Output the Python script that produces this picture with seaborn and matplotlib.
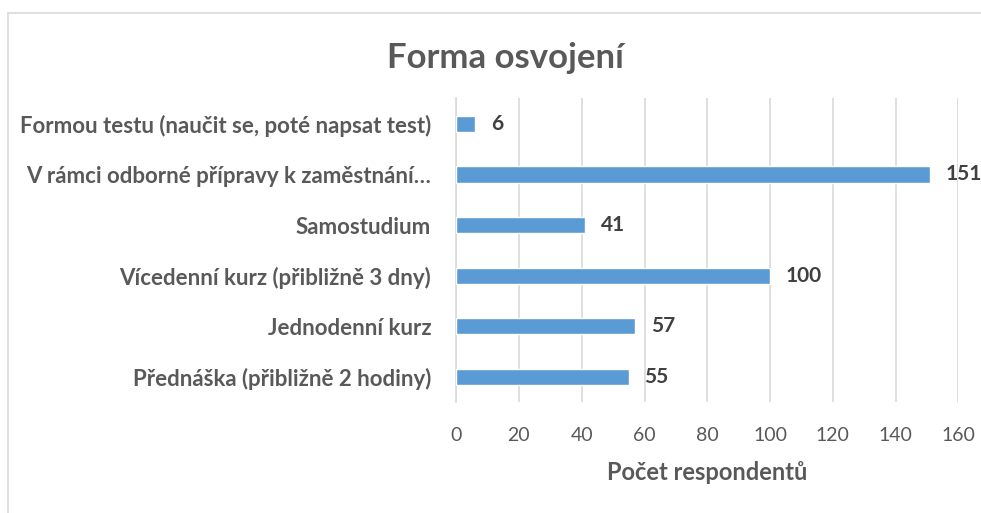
import matplotlib.pyplot as plt
from matplotlib.lines import Line2D
import pandas as pd
import seaborn as sns


# Data (top to bottom).
KATEGORIE = [
    "Formou testu (naučit se, poté napsat test)",
    "V rámci odborné přípravy k zaměstnání…",
    "Samostudium",
    "Vícedenní kurz (přibližně 3 dny)",
    "Jednodenní kurz",
    "Přednáška (přibližně 2 hodiny)",
]
POCTY = [6, 151, 41, 100, 57, 55]
X_TICKS = [0, 20, 40, 60, 80, 100, 120, 140, 160]

BARVA = "#5B9BD5"
SEDA_TEXT = "#595959"
FONT = ["Lato", "DejaVu Sans"]


def main():
    sns.set_theme(style="white")
    plt.rcParams["font.family"] = FONT

    data = pd.DataFrame({"kategorie": KATEGORIE, "pocet": POCTY})

    fig = plt.figure(figsize=(9.81, 5.13), dpi=100)
    ax = fig.add_axes([0.465, 0.216, 0.512, 0.592])

    sns.barplot(
        data=data,
        x="pocet",
        y="kategorie",
        color=BARVA,
        width=0.32,
        saturation=1,
        ax=ax,
        zorder=3,
    )

    for i, hodnota in enumerate(POCTY):
        ax.text(
            hodnota + 5, i, str(hodnota),
            va="center", ha="left",
            fontsize=15, fontweight="bold", color="#404040",
        )

    ax.set_xlim(0, 160)
    ax.set_xticks(X_TICKS)
    ax.set_xticklabels([str(t) for t in X_TICKS], fontsize=14, color=SEDA_TEXT)
    ax.tick_params(axis="x", length=0, pad=18)
    ax.tick_params(axis="y", length=0, pad=18)
    for lbl in ax.get_yticklabels():
        lbl.set_fontsize(16)
        lbl.set_fontweight("bold")
        lbl.set_color(SEDA_TEXT)

    ax.xaxis.grid(True, color="#D9D9D9", linewidth=1.2, zorder=0)
    ax.yaxis.grid(False)
    for strana in ["top", "right", "bottom"]:
        ax.spines[strana].set_visible(False)
    ax.spines["left"].set_color("#D9D9D9")
    ax.spines["left"].set_linewidth(1.2)

    ax.set_ylabel("")
    ax.set_xlabel("Počet respondentů", fontsize=17, fontweight="bold",
                  color=SEDA_TEXT, labelpad=12)

    fig.text(0.515, 0.887, "Forma osvojení", ha="center", va="center",
             fontsize=25, fontweight="bold", color=SEDA_TEXT)

    # Light frame of the chart area (left and top edges only).
    fig.add_artist(Line2D([0.008, 0.008], [0.0, 0.975], color="#D9D9D9",
                          linewidth=1.2, transform=fig.transFigure))
    fig.add_artist(Line2D([0.008, 1.0], [0.975, 0.975], color="#D9D9D9",
                          linewidth=1.2, transform=fig.transFigure))

    fig.savefig("out.png", dpi=100)
    plt.close(fig)


if __name__ == "__main__":
    main()
